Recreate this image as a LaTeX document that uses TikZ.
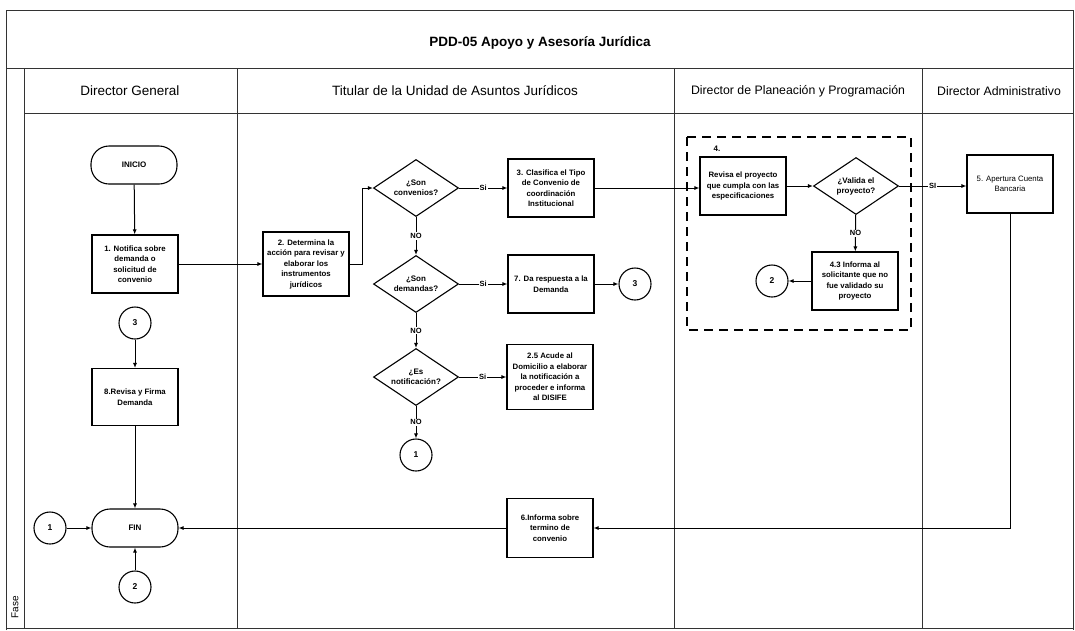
\documentclass[tikz,border=0pt]{standalone}
\usepackage{fontspec}
\setmainfont{Liberation Sans}
\usetikzlibrary{shapes.geometric, arrows.meta}

\begin{document}
\begin{tikzpicture}[x=1pt, y=-1pt,
	lane/.style={draw=black!80, line width=0.9pt},
	proc/.style={draw, rectangle, line width=1.1pt, minimum width=86pt, minimum height=58pt, align=center, inner sep=1pt, font=\fontsize{7.8}{10.5}\selectfont\bfseries},
	term/.style={draw, rectangle, rounded corners=18pt, line width=1.1pt, minimum width=86pt, minimum height=38pt, font=\fontsize{8}{9}\selectfont\bfseries},
	decision/.style={draw, diamond, aspect=1.5, line width=1.1pt, minimum width=85pt, minimum height=57pt, inner sep=0pt, align=center, font=\fontsize{8}{10}\selectfont\bfseries},
	conn/.style={draw, circle, line width=1.1pt, minimum size=32pt, inner sep=0pt, font=\fontsize{8.5}{9}\selectfont\bfseries},
	flow/.style={line width=1pt, -{Latex[length=5pt, width=4pt]}},
	answer/.style={midway, fill=white, inner sep=1pt, font=\fontsize{7.5}{8}\selectfont\bfseries},
	lanehead/.style={font=\fontsize{13.5}{15}\selectfont}
]
\useasboundingbox (0,0) rectangle (1075,630);

% Frame and lanes
\draw[lane] (6,630) -- (6,10) -- (1073,10) -- (1073,630);
\draw[lane] (6,68) -- (1073,68);
\draw[lane] (24,113) -- (1073,113);
\draw[lane] (6,628) -- (1073,628);
\foreach \xl in {24, 237, 674, 922}
	\draw[lane] (\xl,68) -- (\xl,628);

% Titles
\node[font=\fontsize{13.5}{15}\selectfont\bfseries] (title) at (540,43) {PDD-05 Apoyo y Asesoría Jurídica};
\node[lanehead] (hdg) at (130,91) {Director General};
\node[lanehead] (hutaj) at (455,91) {Titular de la Unidad de Asuntos Jurídicos};
\node[lanehead, font=\fontsize{12.3}{14}\selectfont] (hdpp) at (798,91) {Director de Planeación y Programación};
\node[lanehead, font=\fontsize{12.3}{14}\selectfont] (hda) at (999,91) {Director Administrativo};
\node[rotate=90, font=\fontsize{10}{11}\selectfont] (fase) at (15,607) {Fase};

% Director General
\node[term] (inicio) at (134,165) {INICIO};
\node[proc] (notifica) at (135,264) {1. Notifica sobre\\demanda o\\solicitud de\\convenio};
\node[conn] (c3l) at (135,323) {3};
\node[proc, minimum height=57pt] (firma) at (135,397) {8.Revisa y Firma\\Demanda};
\node[term] (fin) at (135,528) {FIN};
\node[conn] (c1l) at (50,528) {1};
\node[conn] (c2l) at (135,587) {2};

% Titular de la Unidad de Asuntos Juridicos
\node[proc, minimum height=64pt] (determina) at (306,264) {2. Determina la\\acción para revisar y\\elaborar los\\instrumentos\\jurídicos};
\node[decision] (convenios) at (416,188) {¿Son\\convenios?};
\node[decision] (demandas) at (416,284) {¿Son\\demandas?};
\node[decision] (notif) at (416,377) {¿Es\\notificación?};
\node[conn] (c1b) at (416,455) {1};
\node[proc] (clasifica) at (551,188) {3. Clasifica el Tipo\\de Convenio de\\coordinación\\Institucional};
\node[proc] (respuesta) at (551,284) {7. Da respuesta a la\\Demanda};
\node[conn] (c3r) at (635,284) {3};
\node[proc, minimum height=65pt] (acude) at (550,377) {2.5 Acude al\\Domicilio a elaborar\\la notificación a\\proceder e informa\\al DISIFE};
\node[proc, minimum height=59pt] (informa) at (550,528) {6.Informa sobre\\termino de\\convenio};

% Director de Planeacion y Programacion
\draw[line width=1.1pt, dash pattern=on 9pt off 6pt] (687,137) rectangle (911,330);
\node[font=\fontsize{8}{9}\selectfont\bfseries] (grupo) at (717,149) {4.};
\node[proc] (revisa) at (743,186) {Revisa el proyecto\\que cumpla con las\\especificaciones};
\node[decision] (valida) at (856,186) {¿Valida el\\proyecto?};
\node[proc] (nova) at (855,281) {4.3 Informa al\\solicitante que no\\fue validado su\\proyecto};
\node[conn] (c2r) at (772,281) {2};

% Director Administrativo
\node[proc, font=\fontsize{7.8}{10.5}\selectfont] (apertura) at (1010,184) {5. Apertura Cuenta\\Bancaria};

% Flow
\draw[flow] (inicio) -- (notifica);
\draw[flow] (notifica) -- (determina);
\draw[flow] (determina.east) -- ++(13,0) |- (convenios.west);
\draw[flow] (convenios) -- (clasifica) node[answer] {Si};
\draw[flow] (convenios) -- (demandas) node[answer] {NO};
\draw[flow] (demandas) -- (respuesta) node[answer] {Si};
\draw[flow] (respuesta) -- (c3r);
\draw[flow] (demandas) -- (notif) node[answer] {NO};
\draw[flow] (notif) -- (acude) node[answer] {Si};
\draw[flow] (notif) -- (c1b) node[answer] {NO};
\draw[flow] (clasifica.east) -- (revisa.west |- clasifica.east);
\draw[flow] (revisa) -- (valida);
\draw[flow] (valida) -- (apertura.west |- valida.east) node[answer] {SI};
\draw[flow] (valida) -- (nova) node[answer] {NO};
\draw[flow] (nova) -- (c2r);
\draw[flow] (c3l) -- (firma);
\draw[flow] (firma) -- (fin);
\draw[flow] (c1l) -- (fin);
\draw[flow] (c2l) -- (fin);
\draw[flow] (apertura.south) |- (informa.east);
\draw[flow] (informa) -- (fin);
\end{tikzpicture}
\end{document}
